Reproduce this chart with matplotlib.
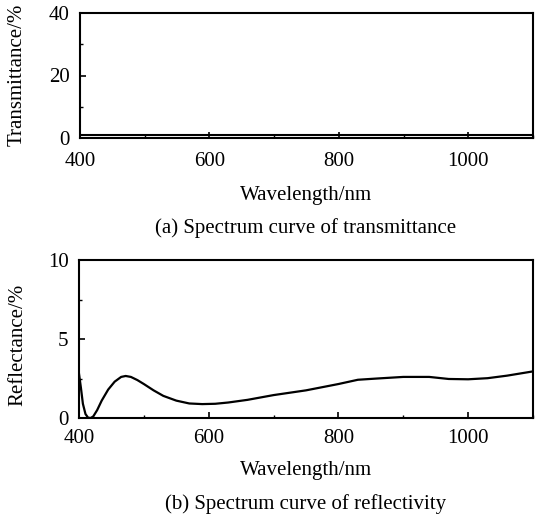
import matplotlib
matplotlib.use("Agg")
import matplotlib.pyplot as plt
import numpy as np
from matplotlib.ticker import MultipleLocator

plt.rcParams['font.family'] = ['Liberation Serif', 'DejaVu Serif']

# Transmittance data (nm, %)
trans_wl = [400, 500, 600, 700, 800, 900, 1000, 1100]
trans_val = [0.9, 0.9, 0.9, 0.9, 0.9, 0.9, 0.9, 0.9]

# Reflectance data (nm, %)
refl_wl = [400, 403, 406, 410, 414, 418, 422, 428, 435, 445, 455, 465, 472, 480, 490,
           500, 515, 530, 550, 570, 590, 610, 630, 660, 700, 750, 800, 830, 860,
           900, 940, 970, 1000, 1030, 1060, 1100]
refl_val = [2.8, 1.9, 0.9, 0.25, 0.02, 0.0, 0.1, 0.5, 1.1, 1.8, 2.3, 2.6, 2.66, 2.6, 2.4,
            2.15, 1.75, 1.4, 1.1, 0.92, 0.88, 0.9, 0.98, 1.15, 1.45, 1.75, 2.15, 2.42, 2.5,
            2.6, 2.6, 2.47, 2.45, 2.52, 2.68, 2.95]

fig = plt.figure(figsize=(5.42, 5.17), dpi=100)
W, H = 542, 517

def style(ax, xpad):
    for s in ax.spines.values():
        s.set_linewidth(1.5)
    ax.tick_params(direction='in', which='major', length=4, width=1.2, labelsize=15)
    ax.tick_params(axis='x', which='major', pad=xpad)
    ax.tick_params(axis='y', which='major', pad=7.5)
    ax.tick_params(direction='in', which='minor', length=2.5, width=1.0)
    ax.xaxis.set_major_locator(MultipleLocator(200))
    ax.xaxis.set_minor_locator(MultipleLocator(100))

ax1 = fig.add_axes([80/W, 1-138/H, 453/W, 125/H])
ax1.plot(trans_wl, trans_val, color='black', lw=1.5)
ax1.set_xlim(400, 1100)
ax1.set_ylim(0, 40)
ax1.yaxis.set_major_locator(MultipleLocator(20))
ax1.yaxis.set_minor_locator(MultipleLocator(10))
style(ax1, 10)
ax1.set_xlabel('Wavelength/nm', fontsize=15, labelpad=11)
ax1.set_ylabel('Transmittance/%', fontsize=15)
ax1.yaxis.set_label_coords(27/W, 1-75/H, transform=fig.transFigure)
fig.text(306/W, 1-228/H, '(a) Spectrum curve of transmittance', fontsize=15,
         ha='center', va='center')

ax2 = fig.add_axes([79/W, 1-418/H, 454/W, 158/H])
ax2.plot(refl_wl, refl_val, color='black', lw=1.6)
ax2.set_xlim(400, 1100)
ax2.set_ylim(0, 10)
ax2.yaxis.set_major_locator(MultipleLocator(5))
ax2.yaxis.set_minor_locator(MultipleLocator(2.5))
style(ax2, 8)
ax2.set_xlabel('Wavelength/nm', fontsize=15, labelpad=9.5)
ax2.set_ylabel('Reflectance/%', fontsize=15)
ax2.yaxis.set_label_coords(27/W, 1-345/H, transform=fig.transFigure)
fig.text(306/W, 1-504/H, '(b) Spectrum curve of reflectivity', fontsize=15,
         ha='center', va='center')

fig.savefig('out.png', dpi=100)
